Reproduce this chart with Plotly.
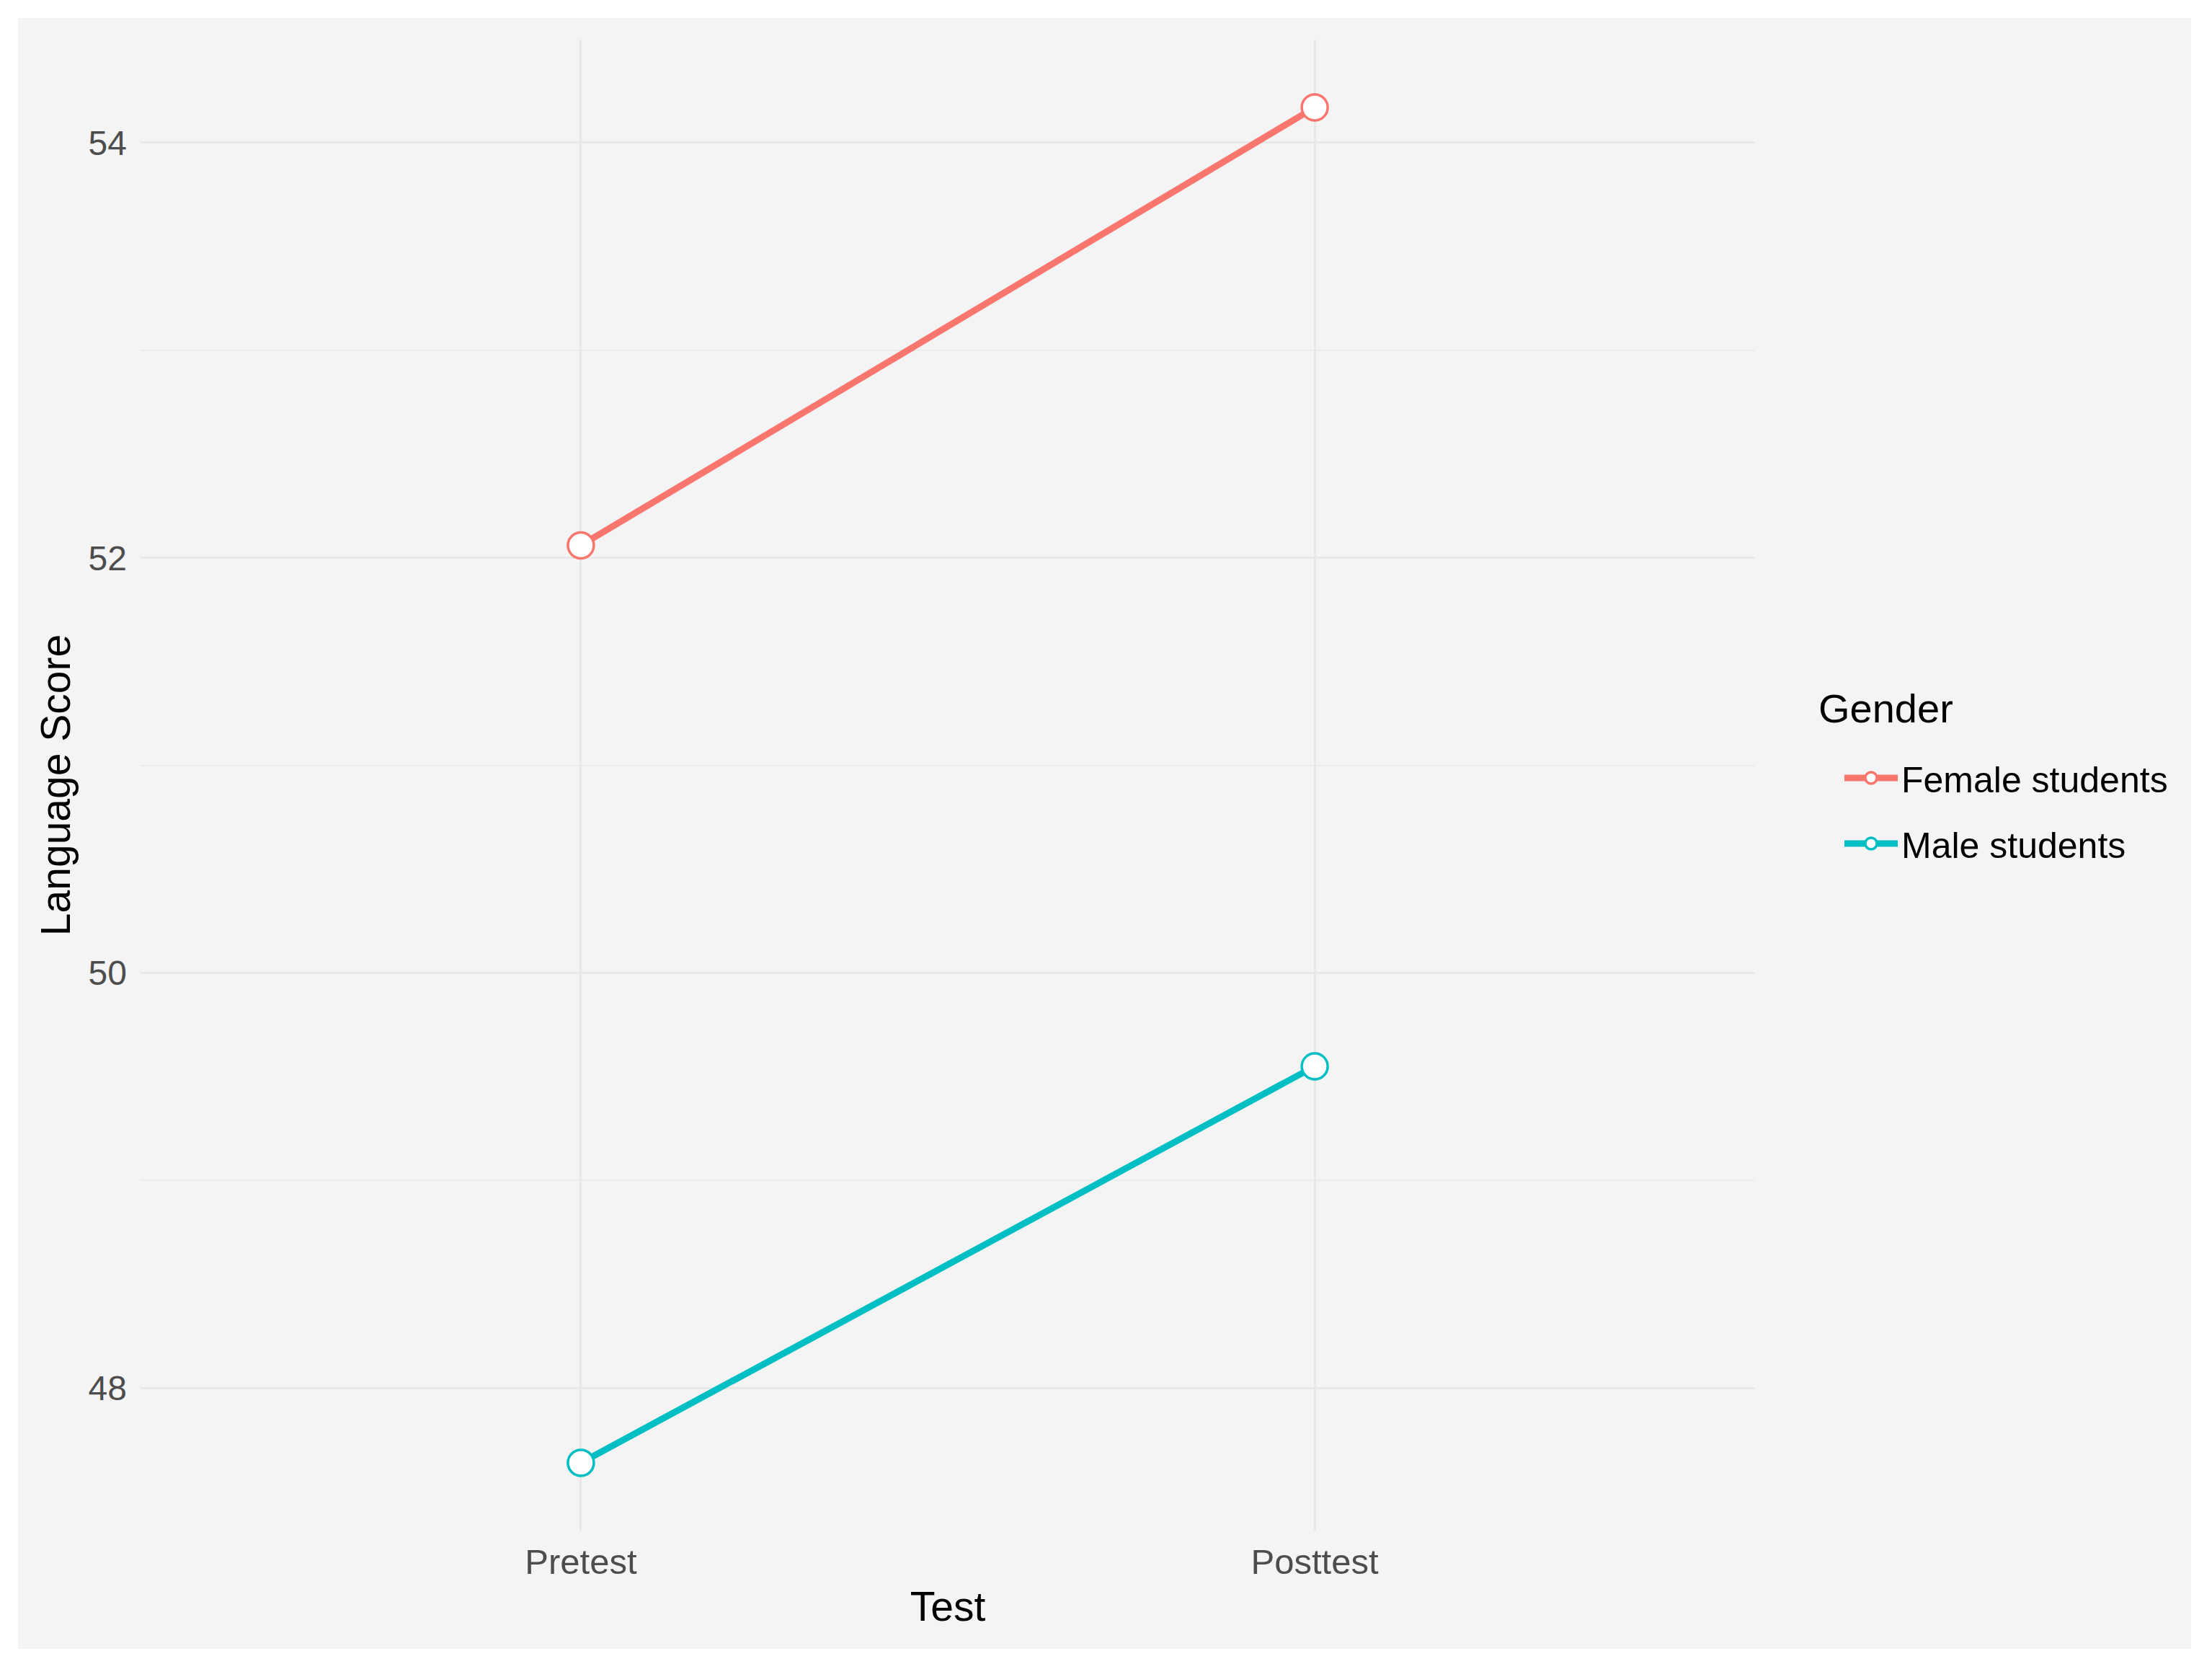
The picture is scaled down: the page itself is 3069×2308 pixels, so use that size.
import plotly.graph_objects as go

# data
tests = ["Pretest", "Posttest"]
female_scores = [52.06, 54.17]
male_scores = [47.64, 49.55]
series_names = ["Female students", "Male students"]
series_colors = ["#F8766D", "#00BFC4"]
y_ticks = [48, 50, 52, 54]

# the page has an 8px body margin, so the figure is a bit smaller than the window
OFF = 8
W, H = 3069 - OFF, 2308 - OFF
ml, mr, mt, mb = 187, 634, 47, 185
pw, ph = W - ml - mr, H - mt - mb


def px_x(p):
    # page pixel -> paper x
    return (p - OFF - ml) / pw


def px_y(p):
    # page pixel -> paper y
    return (H - mb - (p - OFF)) / ph


fig = go.Figure()
for name, vals, col in zip(series_names, [female_scores, male_scores], series_colors):
    fig.add_trace(go.Scatter(
        x=tests, y=vals, name=name, mode="lines+markers", legendgroup=name,
        line=dict(color=col, width=9),
        marker=dict(symbol="circle", size=36, color="white",
                    line=dict(color=col, width=3.5)),
    ))

# ggplot-like expanded y range
lo, hi = min(male_scores + female_scores), max(male_scores + female_scores)
pad = (hi - lo) * 0.05

# grey panel with a thin white border around the whole figure
fig.add_shape(type="rect", xref="paper", yref="paper",
              x0=px_x(25), x1=px_x(3040), y0=px_y(2287), y1=px_y(25),
              fillcolor="#f4f4f4", line=dict(width=0), layer="below")

# legend title as separate text so the gap to the items can match
fig.add_annotation(text="Gender", xref="paper", yref="paper",
                   x=px_x(2521), y=px_y(982), xanchor="left", yanchor="middle",
                   showarrow=False, font=dict(size=56, color="black"))

font = "Liberation Sans, Arial, sans-serif"
fig.update_layout(
    width=W, height=H,
    margin=dict(l=ml, r=mr, t=mt, b=mb),
    paper_bgcolor="white", plot_bgcolor="#f4f4f4",
    font=dict(family=font, color="black"),
    legend=dict(
        font=dict(size=50, color="black"),
        itemwidth=74, tracegroupgap=23,
        x=px_x(2554), xanchor="left",
        y=px_y(1040), yanchor="top",
        bgcolor="rgba(0,0,0,0)",
    ),
)
fig.update_xaxes(
    type="category", range=[-0.6, 1.6],
    ticklabelstandoff=10,
    showgrid=True, gridcolor="#e8e8e8", gridwidth=3,
    zeroline=False, showline=False, ticks="",
    tickfont=dict(size=49, color="#4d4d4d"),
    title=dict(text="Test", font=dict(size=57, color="black"), standoff=16),
)
fig.update_yaxes(
    range=[lo - pad, hi + pad],
    tickvals=y_ticks, ticktext=[str(v) for v in y_ticks],
    ticklabelstandoff=18,
    showgrid=True, gridcolor="#e8e8e8", gridwidth=3,
    minor=dict(showgrid=True, dtick=1, tick0=0, gridcolor="#ececec", gridwidth=1.5),
    zeroline=False, showline=False, ticks="",
    tickfont=dict(size=48, color="#4d4d4d"),
    title=dict(text="Language Score", font=dict(size=57, color="black"), standoff=6),
)

fig.write_html("out.html")
